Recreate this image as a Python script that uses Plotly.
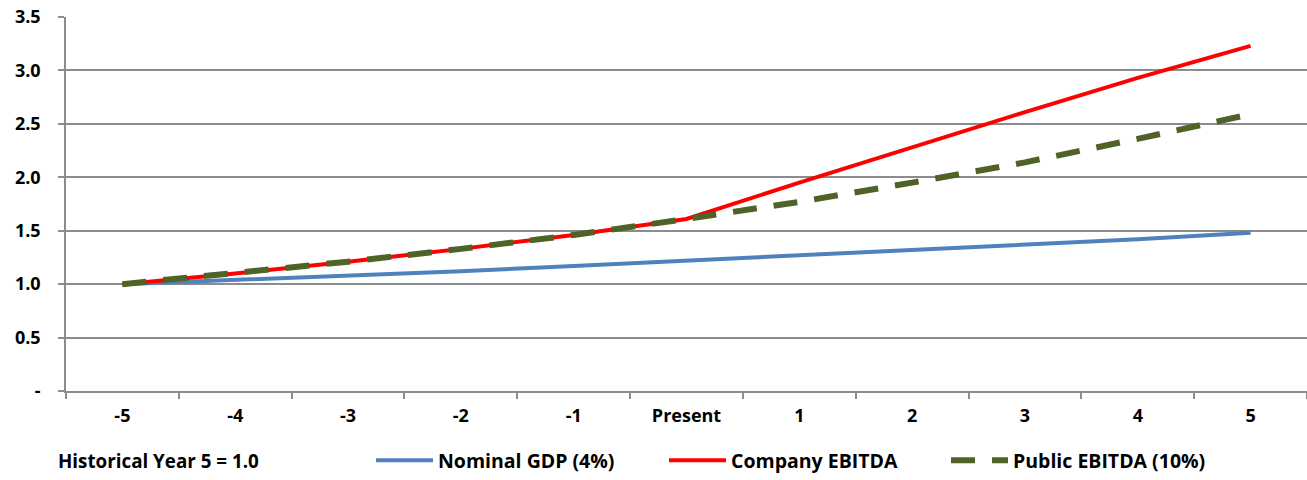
import plotly.graph_objects as go

categories = ["-5", "-4", "-3", "-2", "-1", "Present", "1", "2", "3", "4", "5"]
nominal_gdp = [1.00, 1.04, 1.08, 1.12, 1.17, 1.22, 1.27, 1.32, 1.37, 1.42, 1.48]
company_ebitda = [1.00, 1.10, 1.21, 1.33, 1.46, 1.61, 1.95, 2.28, 2.61, 2.93, 3.23]
public_ebitda = [1.00, 1.10, 1.21, 1.33, 1.46, 1.61, 1.77, 1.95, 2.14, 2.36, 2.59]
y_ticks = [0, 0.5, 1.0, 1.5, 2.0, 2.5, 3.0, 3.5]
y_tick_labels = ["-", "0.5", "1.0", "1.5", "2.0", "2.5", "3.0", "3.5"]

FONT = "Open Sans"
bold = dict(family=FONT, size=18, color="black", weight="bold")
bold_leg = dict(family=FONT, size=19.5, color="black", weight="bold")
bold_note = dict(family=FONT, size=18.8, color="black", weight="bold")

fig = go.Figure()
fig.add_trace(go.Scatter(x=categories, y=nominal_gdp, mode="lines", name="Nominal GDP (4%)",
                         line=dict(color="#4F81BD", width=4), legend="legend"))
fig.add_trace(go.Scatter(x=categories, y=company_ebitda, mode="lines", name="Company EBITDA",
                         line=dict(color="#FF0000", width=4), legend="legend2"))
fig.add_trace(go.Scatter(x=categories, y=public_ebitda, mode="lines", name="Public EBITDA (10%)",
                         line=dict(color="#4F6228", width=6, dash="24px,17px"), legend="legend3"))

# plot area sits at x 66..1307, y 17..392 (page body margin removed below)
PLOT_LEFT = 66
PLOT_W = 1241.0
def lx(px):
    return (px - PLOT_LEFT) / PLOT_W

LY = -0.187
leg_common = dict(orientation="h", yanchor="middle", y=LY, xanchor="left",
                  font=bold_leg, itemwidth=57, bgcolor="rgba(0,0,0,0)")

fig.update_layout(
    width=1307, height=480,
    margin=dict(l=66, r=0, t=17, b=88),
    plot_bgcolor="white", paper_bgcolor="white",
    font=bold,
    showlegend=True,
    legend=dict(x=lx(371), **leg_common),
    legend2=dict(x=lx(664), **leg_common),
    legend3=dict(x=lx(946), **leg_common),
    xaxis=dict(type="category", range=[-0.5, 10.5], tickson="boundaries",
               ticks="outside", ticklen=6, tickcolor="#8c8c8c", tickwidth=1.5,
               showline=True, linecolor="#8c8c8c", linewidth=1.5, showgrid=False,
               tickfont=bold, ticklabelstandoff=8, automargin=False, fixedrange=True,
               ticklabeloverflow="allow"),
    yaxis=dict(range=[0, 3.5], tickvals=y_ticks, ticktext=y_tick_labels,
               ticks="outside", ticklen=6, tickcolor="#8c8c8c", tickwidth=1.5,
               showline=True, linecolor="#8c8c8c", linewidth=1.5,
               showgrid=True, gridcolor="#8c8c8c", gridwidth=1.5, zeroline=False,
               tickfont=bold, ticklabelstandoff=14, automargin=False,
               ticklabeloverflow="allow"),
    annotations=[dict(text="Historical Year 5 = 1.0", xref="paper", yref="paper",
                      x=lx(56), y=LY, xanchor="left", yanchor="middle", showarrow=False,
                      font=bold_note)],
)

fig.write_html("out.html", config={"displayModeBar": False},
               post_script="document.body.style.margin='0px';")
